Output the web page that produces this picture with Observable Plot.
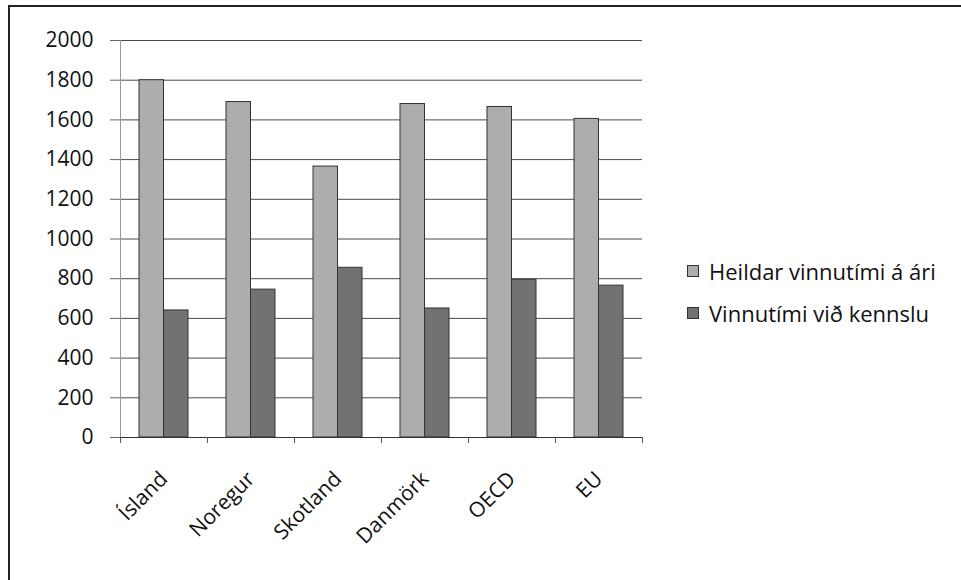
<!DOCTYPE html>
<html>
<head>
<meta charset="utf-8">
<script src="https://cdn.jsdelivr.net/npm/d3@7"></script>
<script src="https://cdn.jsdelivr.net/npm/@observablehq/plot@0.6"></script>
<style>
  body { margin: 0; background: #fff; font-family: "Open Sans", Lato, sans-serif; }
  #wrap { position: relative; width: 961px; height: 580px; overflow: hidden; background: #fff; }
  #border { position: absolute; left: 8px; top: 5px; width: 960px; height: 580px; z-index: 2;
            border-left: 2px solid #222; border-top: 2px solid #222; pointer-events: none; }
  #chart { position: absolute; left: 0; top: 0; z-index: 1; }
  #legend { position: absolute; left: 687px; top: 250px; font-size: 22px; color: #111; z-index: 1; }
  .item { display: flex; align-items: center; height: 42px; }
  .sw { width: 10px; height: 10px; border: 1px solid #333; margin-right: 10px; }
</style>
</head>
<body>
<div id="wrap">
  <div id="border"></div>
  <div id="chart"></div>
  <div id="legend"></div>
</div>
<script>
const countries = ["Ísland", "Noregur", "Skotland", "Danmörk", "OECD", "EU"];
const heildar = [1800, 1690, 1365, 1680, 1665, 1605];
const kennsla = [640, 745, 855, 650, 795, 765];
const seriesNames = ["Heildar vinnutími á ári", "Vinnutími við kennslu"];
const seriesColors = ["#adadad", "#727272"];
const yTicks = [0, 200, 400, 600, 800, 1000, 1200, 1400, 1600, 1800, 2000];

const rowsA = countries.map((c, i) => ({country: c, value: heildar[i]}));
const rowsB = countries.map((c, i) => ({country: c, value: kennsla[i]}));

const W = 660, H = 560, ML = 120, MR = 18;
const step = (W - ML - MR) / countries.length;

const chart = Plot.plot({
  width: W, height: H,
  marginLeft: ML, marginRight: MR, marginTop: 40, marginBottom: 123,
  style: {fontFamily: "'Open Sans', Lato, sans-serif", color: "#111", background: "transparent"},
  x: {type: "band", domain: countries, paddingInner: 0.44, paddingOuter: 0.22, label: null},
  y: {domain: [0, 2000], label: null},
  marks: [
    Plot.ruleY(yTicks.filter(d => d > 0), {stroke: "#4a4a4a", strokeWidth: 1}),
    Plot.frame({anchor: "left", stroke: "#999"}),
    Plot.barY(rowsA, {x: "country", y: "value", fill: seriesColors[0], stroke: "#333", strokeWidth: 1, insetRight: 24.5}),
    Plot.barY(rowsB, {x: "country", y: "value", fill: seriesColors[1], stroke: "#333", strokeWidth: 1, insetLeft: 24.5}),
    Plot.ruleY([0], {stroke: "#333", strokeWidth: 1.2}),
    Plot.axisY({ticks: yTicks, tickFormat: "d", tickSize: 10, tickPadding: 17, fontSize: 21, label: null, stroke: "#666"}),
    Plot.axisX({tickSize: 6, text: null, dx: -step / 2, label: null, stroke: "#555"}),
    Plot.axisX({tickSize: 6, text: null, dx: step / 2, label: null, stroke: "#555"}),
    Plot.axisX({tickSize: 0, tickRotate: -45, tickPadding: 38, dx: 0, fontSize: 21, label: null})
  ]
});
document.getElementById("chart").appendChild(chart);

const legend = document.getElementById("legend");
seriesNames.forEach((name, i) => {
  const item = document.createElement("div");
  item.className = "item";
  const sw = document.createElement("span");
  sw.className = "sw";
  sw.style.background = seriesColors[i];
  const t = document.createElement("span");
  t.textContent = name;
  item.appendChild(sw);
  item.appendChild(t);
  legend.appendChild(item);
});
</script>
</body>
</html>
